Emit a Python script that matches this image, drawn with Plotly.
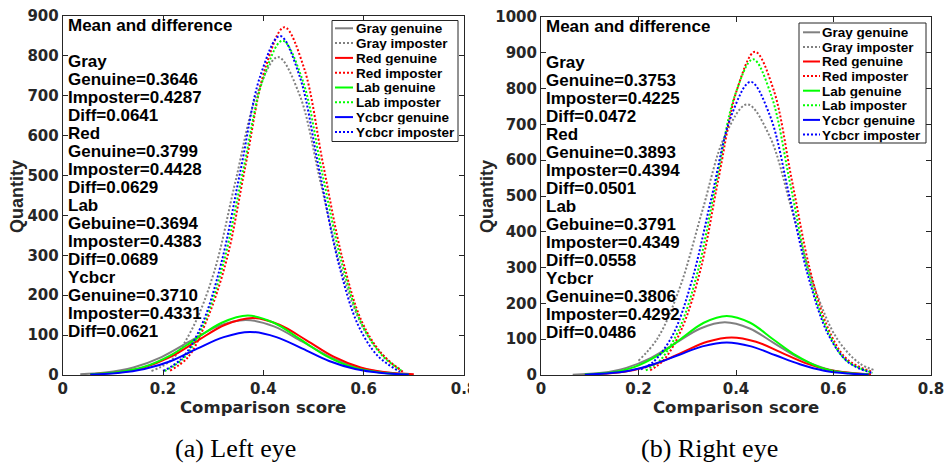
import plotly.graph_objects as go

# figure size in pixels
W, H = 947, 466

# ---- data (comparison score -> quantity) ----
names = ["Gray genuine", "Gray imposter", "Red genuine", "Red imposter",
         "Lab genuine", "Lab imposter", "Ycbcr genuine", "Ycbcr imposter"]
colors = ["#808080", "#808080", "#ff0000", "#ff0000",
          "#00ff00", "#00ff00", "#0000ff", "#0000ff"]

# (a) Left eye
left_gray_gen_x = [0.035, 0.085, 0.141, 0.197, 0.253, 0.309, 0.365, 0.421, 0.477, 0.533, 0.589, 0.645, 0.690]
left_gray_gen_y = [2, 6, 19, 45, 84, 122, 138, 122, 84, 45, 19, 6, 2]
left_gray_imp_x = [0.177, 0.217, 0.259, 0.302, 0.344, 0.387, 0.429, 0.472, 0.514, 0.557, 0.599, 0.642, 0.675]
left_gray_imp_y = [10, 38, 118, 259, 483, 703, 797, 703, 483, 259, 118, 45, 12]
left_red_gen_x = [0.055, 0.108, 0.162, 0.216, 0.270, 0.324, 0.378, 0.432, 0.486, 0.540, 0.594, 0.648, 0.700]
left_red_gen_y = [2, 6, 19, 46, 87, 126, 143, 126, 87, 46, 19, 6, 2]
left_red_imp_x = [0.214, 0.250, 0.288, 0.327, 0.365, 0.404, 0.442, 0.481, 0.519, 0.558, 0.596, 0.635, 0.678]
left_red_imp_y = [11, 45, 140, 290, 529, 770, 872, 770, 529, 290, 135, 55, 8]
left_lab_gen_x = [0.055, 0.109, 0.161, 0.213, 0.265, 0.317, 0.369, 0.421, 0.473, 0.525, 0.577, 0.629, 0.690]
left_lab_gen_y = [2, 7, 20, 48, 90, 131, 149, 131, 90, 48, 20, 7, 1]
left_lab_imp_x = [0.203, 0.241, 0.280, 0.320, 0.359, 0.399, 0.438, 0.478, 0.517, 0.557, 0.596, 0.636, 0.678]
left_lab_imp_y = [10, 42, 125, 278, 508, 740, 838, 740, 508, 278, 128, 50, 8]
left_ycbcr_gen_x = [0.055, 0.110, 0.163, 0.216, 0.268, 0.321, 0.373, 0.426, 0.478, 0.531, 0.583, 0.636, 0.690]
left_ycbcr_gen_y = [1, 5, 15, 35, 66, 95, 108, 95, 66, 35, 15, 5, 1]
left_ycbcr_imp_x = [0.200, 0.238, 0.277, 0.316, 0.355, 0.394, 0.433, 0.472, 0.511, 0.550, 0.589, 0.628, 0.672]
left_ycbcr_imp_y = [10, 42, 125, 280, 516, 750, 850, 750, 516, 280, 125, 48, 8]

# (b) Right eye
right_gray_gen_x = [0.065, 0.125, 0.175, 0.226, 0.276, 0.327, 0.377, 0.428, 0.478, 0.529, 0.579, 0.630, 0.672]
right_gray_gen_y = [1, 6, 20, 48, 89, 130, 147, 130, 89, 48, 20, 6, 2]
right_gray_imp_x = [0.200, 0.239, 0.285, 0.331, 0.377, 0.423, 0.469, 0.515, 0.561, 0.607, 0.653, 0.685]
right_gray_imp_y = [40, 102, 245, 459, 667, 756, 667, 459, 245, 102, 33, 13]
right_red_gen_x = [0.090, 0.141, 0.191, 0.241, 0.291, 0.341, 0.391, 0.441, 0.491, 0.541, 0.591, 0.641, 0.677]
right_red_gen_y = [1, 5, 14, 34, 64, 93, 105, 93, 64, 34, 14, 5, 2]
right_red_imp_x = [0.224, 0.252, 0.289, 0.327, 0.364, 0.402, 0.439, 0.477, 0.514, 0.552, 0.589, 0.627, 0.681]
right_red_imp_y = [13, 42, 130, 293, 548, 797, 903, 797, 548, 293, 130, 45, 8]
right_lab_gen_x = [0.090, 0.144, 0.191, 0.239, 0.286, 0.334, 0.381, 0.429, 0.476, 0.524, 0.571, 0.619, 0.672]
right_lab_gen_y = [2, 7, 22, 54, 100, 146, 165, 146, 100, 54, 22, 7, 2]
right_lab_imp_x = [0.215, 0.245, 0.283, 0.321, 0.359, 0.397, 0.435, 0.473, 0.511, 0.549, 0.587, 0.625, 0.680]
right_lab_imp_y = [13, 42, 127, 286, 535, 778, 882, 778, 535, 286, 127, 42, 6]
right_ycbcr_gen_x = [0.090, 0.131, 0.181, 0.231, 0.281, 0.331, 0.381, 0.431, 0.481, 0.531, 0.581, 0.631, 0.672]
right_ycbcr_gen_y = [1, 4, 12, 30, 55, 80, 91, 80, 55, 30, 12, 4, 1]
right_ycbcr_imp_x = [0.205, 0.230, 0.270, 0.310, 0.350, 0.390, 0.430, 0.470, 0.510, 0.550, 0.590, 0.630, 0.678]
right_ycbcr_imp_y = [16, 36, 111, 266, 497, 723, 819, 723, 497, 266, 111, 36, 6]

# statistics printed inside each panel
left_stats = ["Mean and difference", "",
              "Gray", "Genuine=0.3646", "Imposter=0.4287", "Diff=0.0641",
              "Red", "Genuine=0.3799", "Imposter=0.4428", "Diff=0.0629",
              "Lab", "Gebuine=0.3694", "Imposter=0.4383", "Diff=0.0689",
              "Ycbcr", "Genuine=0.3710", "Imposter=0.4331", "Diff=0.0621"]
right_stats = ["Mean and difference", "",
               "Gray", "Genuine=0.3753", "Imposter=0.4225", "Diff=0.0472",
               "Red", "Genuine=0.3893", "Imposter=0.4394", "Diff=0.0501",
               "Lab", "Gebuine=0.3791", "Imposter=0.4349", "Diff=0.0558",
               "Ycbcr", "Genuine=0.3806", "Imposter=0.4292", "Diff=0.0486"]

x_ticks = [0, 0.2, 0.4, 0.6, 0.8]
x_ticktext = ["0", "0.2", "0.4", "0.6", "0.8"]
captions = ["(a) Left eye", "(b) Right eye"]

left_series = [(left_gray_gen_x, left_gray_gen_y), (left_gray_imp_x, left_gray_imp_y),
               (left_red_gen_x, left_red_gen_y), (left_red_imp_x, left_red_imp_y),
               (left_lab_gen_x, left_lab_gen_y), (left_lab_imp_x, left_lab_imp_y),
               (left_ycbcr_gen_x, left_ycbcr_gen_y), (left_ycbcr_imp_x, left_ycbcr_imp_y)]
right_series = [(right_gray_gen_x, right_gray_gen_y), (right_gray_imp_x, right_gray_imp_y),
                (right_red_gen_x, right_red_gen_y), (right_red_imp_x, right_red_imp_y),
                (right_lab_gen_x, right_lab_gen_y), (right_lab_imp_x, right_lab_imp_y),
                (right_ycbcr_gen_x, right_ycbcr_gen_y), (right_ycbcr_imp_x, right_ycbcr_imp_y)]


def fx(p):
    return p / W


def fy(p):
    return 1 - p / H


AX_COL = "#262626"
DOT = "2px,2px"

fig = go.Figure()

# curves
for series, xa, ya in [(left_series, "x", "y"), (right_series, "x2", "y2")]:
    for i, (xs, ys) in enumerate(series):
        fig.add_trace(go.Scatter(
            x=xs, y=ys, mode="lines", xaxis=xa, yaxis=ya, name=names[i],
            line=dict(color=colors[i], width=2, shape="spline",
                      dash="solid" if i % 2 == 0 else DOT),
            showlegend=False, hoverinfo="skip"))

axis_common = dict(showline=True, linecolor=AX_COL, linewidth=1, mirror="ticks",
                   ticks="inside", ticklen=5, tickcolor=AX_COL, tickwidth=1,
                   showgrid=False, zeroline=False, automargin=False,
                   tickfont=dict(family="DejaVu Sans", size=15, color=AX_COL, weight="bold"))

fig.update_layout(
    width=W, height=H, margin=dict(l=0, r=0, t=0, b=0, autoexpand=False),
    paper_bgcolor="white", plot_bgcolor="white",
    xaxis=dict(domain=[fx(62.7), fx(464)], range=[0, 0.8], tickvals=x_ticks,
               ticktext=x_ticktext, anchor="y", **axis_common),
    yaxis=dict(domain=[fy(375), fy(16)], range=[0, 900], dtick=100, anchor="x", **axis_common),
    xaxis2=dict(domain=[fx(541), fx(931)], range=[0, 0.8], tickvals=x_ticks,
                ticktext=x_ticktext, anchor="y2", **axis_common),
    yaxis2=dict(domain=[fy(375), fy(17)], range=[0, 1000], dtick=100, anchor="x2", **axis_common),
)

annotations = []
shapes = []


def text(x, y, s, font, xanchor="center", yanchor="middle", angle=0, height=None):
    annotations.append(dict(x=fx(x), y=fy(y), xref="paper", yref="paper", text=s,
                            showarrow=False, xanchor=xanchor, yanchor=yanchor,
                            textangle=angle, font=font, height=height,
                            borderpad=0, borderwidth=0))


stat_font = dict(family="Liberation Sans", size=17, color="black", weight="bold")
title_font = dict(family="DejaVu Sans", size=16.5, color=AX_COL, weight="bold")
ylab_font = dict(family="Liberation Sans", size=18, color=AX_COL, weight="bold")
leg_font = dict(family="Liberation Sans", size=13.5, color="black", weight="bold")
cap_font = dict(family="Liberation Serif", size=26, color="black")

# statistics text blocks
for lines, x0, y0 in [(left_stats, 68, 26), (right_stats, 546, 27)]:
    for k, s in enumerate(lines):
        if s:
            text(x0, y0 + 18.0 * k, s, stat_font, xanchor="left", height=17.5)

# axis titles and captions
text(263, 407, "Comparison score", title_font)
text(736, 407, "Comparison score", title_font)
text(17, 197, "Quantity", ylab_font, angle=-90)
text(487, 196, "Quantity", ylab_font, angle=-90)
text(235, 448, captions[0], cap_font)
text(709, 448, captions[1], cap_font)

# legend boxes drawn by hand (MATLAB legend is tighter than plotly's)
for (bx0, bx1, by0, by1, lx0, lx1, tx, ry0, step) in [
        (332, 458, 20.5, 141.5, 335, 353, 356, 28.3, 14.8),
        (799, 926, 23, 143, 803, 820, 822, 32.3, 14.6)]:
    shapes.append(dict(type="rect", xref="paper", yref="paper",
                       x0=fx(bx0), x1=fx(bx1), y0=fy(by1), y1=fy(by0),
                       line=dict(color=AX_COL, width=1), fillcolor="white", layer="above"))
    for i, nm in enumerate(names):
        ry = ry0 + step * i
        shapes.append(dict(type="line", xref="paper", yref="paper",
                           x0=fx(lx0), x1=fx(lx1), y0=fy(ry), y1=fy(ry),
                           line=dict(color=colors[i], width=2,
                                     dash="solid" if i % 2 == 0 else DOT),
                           layer="above"))
        text(tx, ry, nm, leg_font, xanchor="left", height=14.2)

# the left panel's last tick label is cut off in the original layout
shapes.append(dict(type="rect", xref="paper", yref="paper",
                   x0=fx(469), x1=fx(482), y0=fy(400), y1=fy(378),
                   line=dict(width=0), fillcolor="white", layer="above"))

fig.update_layout(annotations=annotations, shapes=shapes)

# drop the browser's default page margin so the figure sits at (0, 0)
fig.write_html("out.html", config={"displayModeBar": False},
               post_script="document.body.style.margin='0px';")
